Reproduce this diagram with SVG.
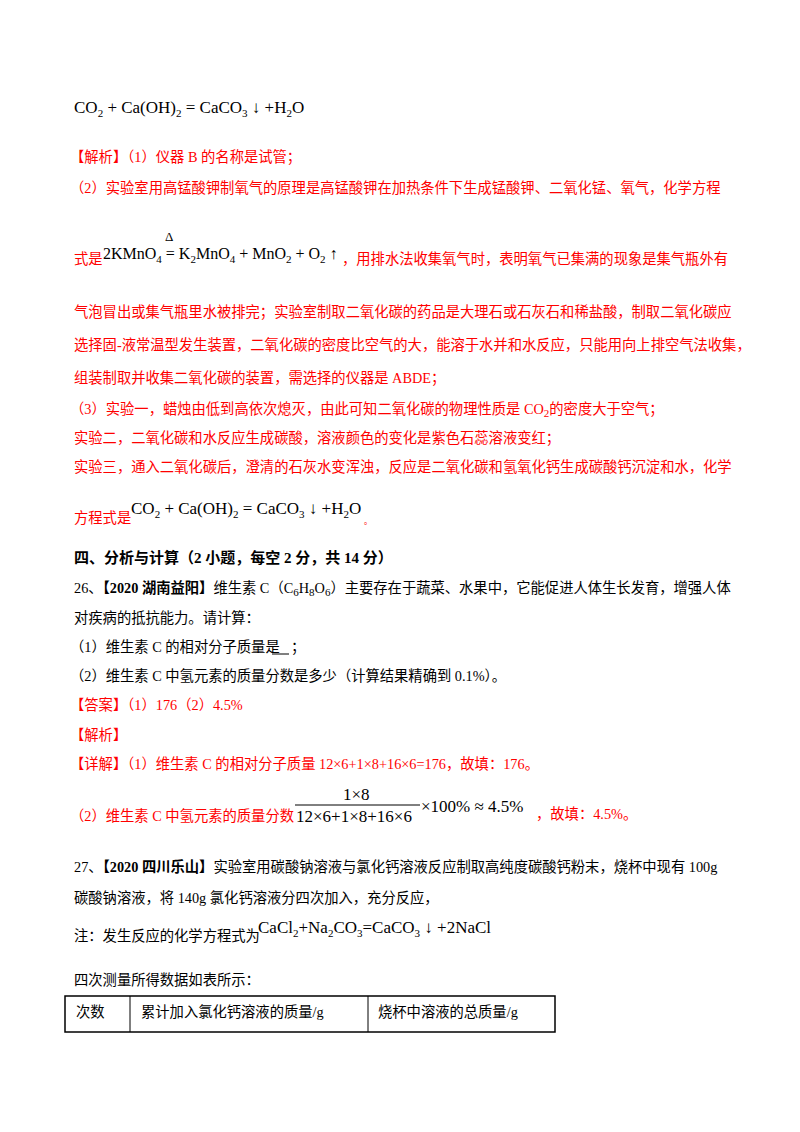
<svg xmlns="http://www.w3.org/2000/svg" width="800" height="1132" viewBox="0 0 800 1132">
<style>
text{font-family:"Liberation Serif","Noto Sans CJK SC",serif;font-size:14.3px;fill:#000}
.r{fill:#ff0000}
.f{font-size:17px}
.s{font-size:11px}
.h{font-weight:bold;font-size:15px}
</style>
<rect width="800" height="1132" fill="#fff"/>
<text x="74" y="113" class="f">CO<tspan class="s" dy="4">2</tspan><tspan dy="-4"> + Ca(OH)</tspan><tspan class="s" dy="4">2</tspan><tspan dy="-4"> = CaCO</tspan><tspan class="s" dy="4">3</tspan><tspan dy="-4"> ↓ +H</tspan><tspan class="s" dy="4">2</tspan><tspan dy="-4">O</tspan></text>
<g class="r">
<text x="70" y="162" class="r">【解析】（1）仪器 B 的名称是试管；</text>
<text x="70" y="193" class="r">（2）实验室用高锰酸钾制氧气的原理是高锰酸钾在加热条件下生成锰酸钾、二氧化锰、氧气，化学方程</text>
<text x="74" y="264" class="r">式是</text>
<text x="342" y="264" class="r">，用排水法收集氧气时，表明氧气已集满的现象是集气瓶外有</text>
<text x="74" y="317" class="r">气泡冒出或集气瓶里水被排完；实验室制取二氧化碳的药品是大理石或石灰石和稀盐酸，制取二氧化碳应</text>
<text x="74" y="350" class="r">选择固-液常温型发生装置，二氧化碳的密度比空气的大，能溶于水并和水反应，只能用向上排空气法收集，</text>
<text x="74" y="383" class="r">组装制取并收集二氧化碳的装置，需选择的仪器是 ABDE；</text>
<text x="70" y="414" class="r">（3）实验一，蜡烛由低到高依次熄灭，由此可知二氧化碳的物理性质是 CO<tspan class="s" dy="3">2</tspan><tspan dy="-3">的密度大于空气；</tspan></text>
<text x="74" y="443" class="r">实验二，二氧化碳和水反应生成碳酸，溶液颜色的变化是紫色石蕊溶液变红；</text>
<text x="74" y="472" class="r">实验三，通入二氧化碳后，澄清的石灰水变浑浊，反应是二氧化碳和氢氧化钙生成碳酸钙沉淀和水，化学</text>
<text x="74" y="523" class="r">方程式是</text>
</g>
<text x="103" y="259" style="font-size:16px">2KMnO<tspan class="s" dy="4">4</tspan><tspan dy="-4"> = K</tspan><tspan class="s" dy="4">2</tspan><tspan dy="-4">MnO</tspan><tspan class="s" dy="4">4</tspan><tspan dy="-4"> + MnO</tspan><tspan class="s" dy="4">2</tspan><tspan dy="-4"> + O</tspan><tspan class="s" dy="4">2</tspan><tspan dy="-4"> ↑</tspan></text>
<text x="165" y="241" style="font-size:13px">Δ</text>
<text x="131" y="514" class="f">CO<tspan class="s" dy="4">2</tspan><tspan dy="-4"> + Ca(OH)</tspan><tspan class="s" dy="4">2</tspan><tspan dy="-4"> = CaCO</tspan><tspan class="s" dy="4">3</tspan><tspan dy="-4"> ↓ +H</tspan><tspan class="s" dy="4">2</tspan><tspan dy="-4">O</tspan></text>
<text x="364" y="524" class="r" style="font-size:8px">。</text>
<text x="74" y="563" class="h">四、分析与计算（2 小题，每空 2 分，共 14 分）</text>
<text x="74" y="593">26、<tspan font-weight="bold">【2020 湖南益阳】</tspan>维生素 C（C<tspan class="s" dy="3">6</tspan><tspan dy="-3">H</tspan><tspan class="s" dy="3">8</tspan><tspan dy="-3">O</tspan><tspan class="s" dy="3">6</tspan><tspan dy="-3">）主要存在于蔬菜、水果中，它能促进人体生长发育，增强人体</tspan></text>
<text x="74" y="623">对疾病的抵抗能力。请计算：</text>
<text x="70" y="652">（1）维生素 C 的相对分子质量是</text>
<text x="291" y="652">；</text>
<line x1="272" y1="654" x2="289" y2="654" stroke="#000" stroke-width="1"/>
<text x="70" y="681">（2）维生素 C 中氢元素的质量分数是多少（计算结果精确到 0.1%）。</text>
<g class="r">
<text x="70" y="710" class="r">【答案】（1）176（2）4.5%</text>
<text x="70" y="740" class="r">【解析】</text>
<text x="70" y="769" class="r">【详解】（1）维生素 C 的相对分子质量 12×6+1×8+16×6=176，故填：176。</text>
<text x="70" y="821" class="r">（2）维生素 C 中氢元素的质量分数</text>
<text x="536" y="819" class="r">，故填：4.5%。</text>
</g>
<text x="343" y="800" class="f">1×8</text>
<line x1="295" y1="805" x2="420" y2="805" stroke="#000" stroke-width="1"/>
<text x="296" y="822" class="f">12×6+1×8+16×6</text>
<text x="421" y="812" class="f">×100% ≈ 4.5%</text>
<text x="74" y="872">27、<tspan font-weight="bold">【2020 四川乐山】</tspan>实验室用碳酸钠溶液与氯化钙溶液反应制取高纯度碳酸钙粉末，烧杯中现有 100g</text>
<text x="74" y="903">碳酸钠溶液，将 140g 氯化钙溶液分四次加入，充分反应，</text>
<text x="74" y="941">注：发生反应的化学方程式为</text>
<text x="258" y="933" class="f">CaCl<tspan class="s" dy="4">2</tspan><tspan dy="-4">+Na</tspan><tspan class="s" dy="4">2</tspan><tspan dy="-4">CO</tspan><tspan class="s" dy="4">3</tspan><tspan dy="-4">=CaCO</tspan><tspan class="s" dy="4">3</tspan><tspan dy="-4"> ↓ +2NaCl</tspan></text>
<text x="74" y="985">四次测量所得数据如表所示：</text>
<g fill="none" stroke="#000">
<rect x="65" y="996" width="490" height="36" stroke-width="1.5"/>
<line x1="130" y1="996" x2="130" y2="1032"/>
<line x1="368" y1="996" x2="368" y2="1032"/>
</g>
<text x="76" y="1017">次数</text>
<text x="141" y="1017">累计加入氯化钙溶液的质量/g</text>
<text x="378" y="1017">烧杯中溶液的总质量/g</text>
</svg>
